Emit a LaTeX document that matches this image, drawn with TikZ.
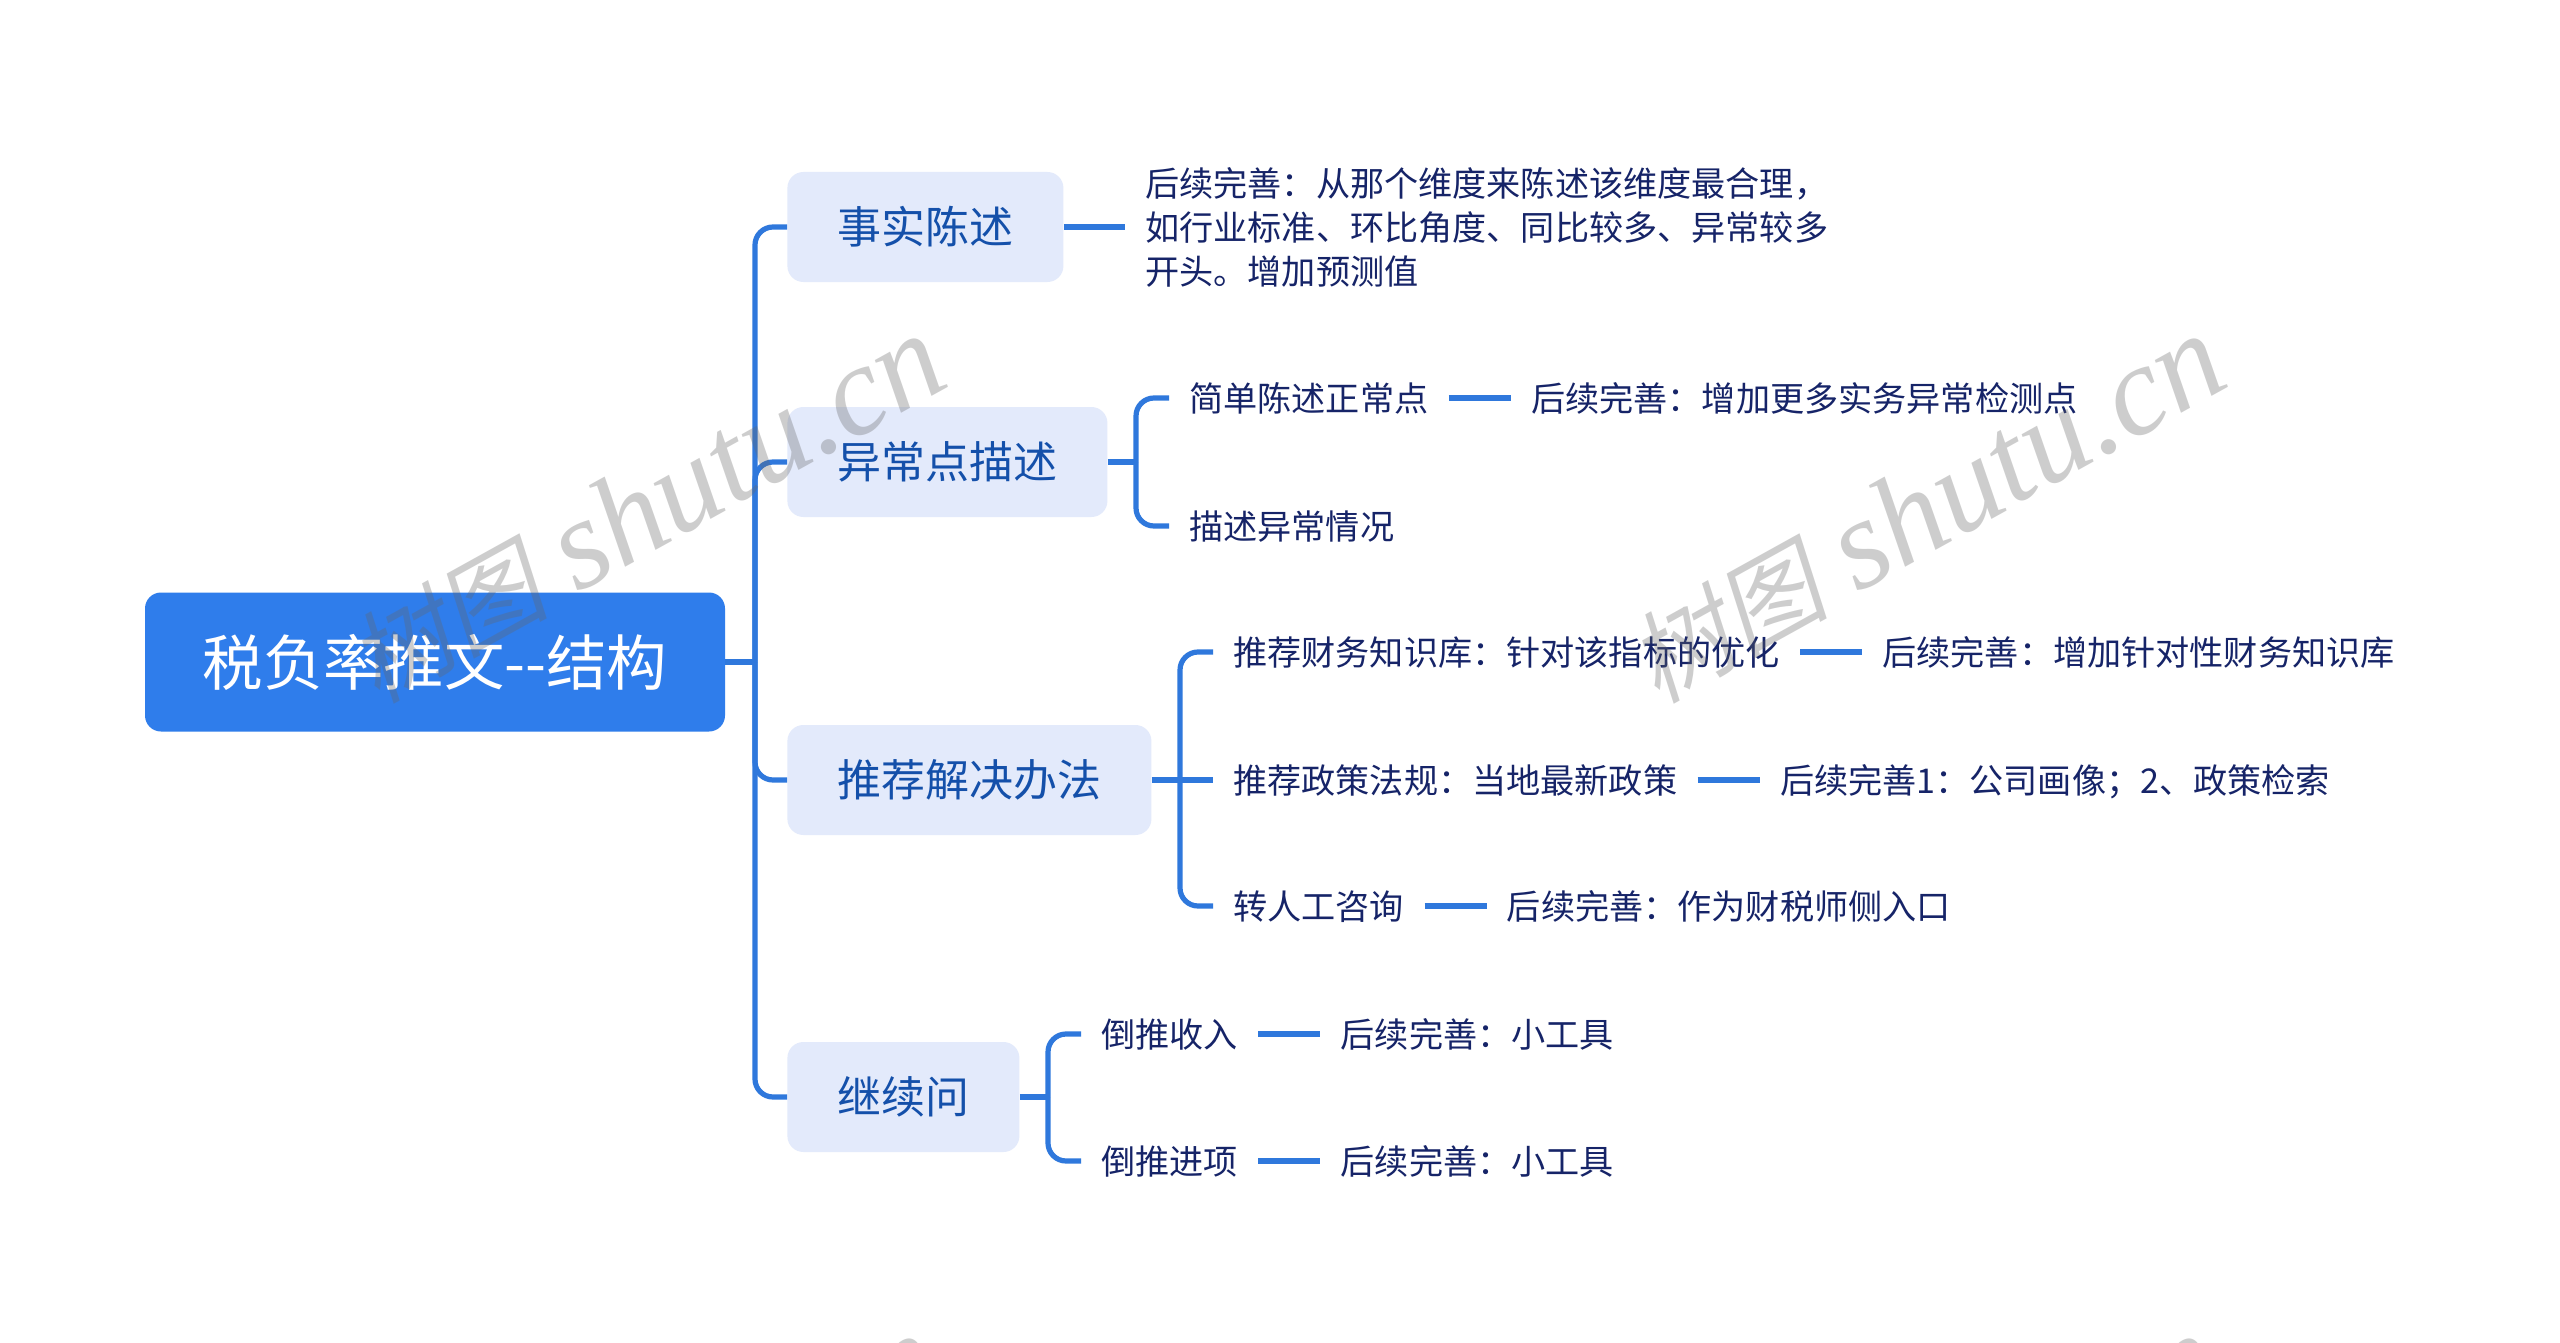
\documentclass[tikz,border=0pt]{standalone}
\usepackage{fontspec}
\setmainfont{Noto Sans CJK SC}
\newfontfamily\stampcjk[FakeSlant=0.2]{Noto Sans CJK SC}
\newfontfamily\stamplatin{Liberation Serif}
\usetikzlibrary{positioning}

\definecolor{rootblue}{RGB}{47,125,235}
\definecolor{linkblue}{RGB}{47,120,220}
\definecolor{branchfill}{RGB}{227,234,251}
\definecolor{branchtext}{RGB}{20,80,170}
\definecolor{leaftext}{RGB}{22,36,104}

\begin{document}
\begin{tikzpicture}[
    x=0.5pt, y=-0.5pt,
    node distance=31pt,
    rootnode/.style={
      % The shape:
      rectangle,
      rounded corners=8pt,
      minimum width=290pt,
      minimum height=69.5pt,
      % The filling:
      fill=rootblue,
      % Font
      text=white,
      font=\fontsize{30.2}{36}\selectfont,
    },
    branch/.style={
      rectangle,
      rounded corners=8pt,
      anchor=west,
      minimum height=55pt,
      inner xsep=25pt,
      fill=branchfill,
      text=branchtext,
      font=\fontsize{22}{26}\selectfont,
      text height=19.4pt,
      text depth=2.6pt,
    },
    leaf/.style={
      rectangle,
      anchor=west,
      inner xsep=10pt,
      inner ysep=2pt,
      text=leaftext,
      font=\fontsize{17.07}{22}\selectfont,
      text height=15pt,
      text depth=2pt,
    },
    note/.style={
      rectangle,
      anchor=west,
      inner xsep=10pt,
      inner ysep=2pt,
      align=left,
      text=leaftext,
      font=\fontsize{17.07}{22}\selectfont,
    },
    link/.style={line width=2.6pt, color=linkblue, rounded corners=9pt},
    stamp/.style={
      rotate=29,
      text=black!60,
      opacity=.32,
      font=\fontsize{64}{64}\selectfont,
    }]

    \path[fill=white] (0,0) rectangle (2560,1343);
    \useasboundingbox (0,0) rectangle (2560,1343);

    \node[rootnode] (root) at (435,662) {税负率推文-{}-结构};

    \node[branch] (fact) at (787,227) {事实陈述};
    \node[branch] (anomaly) at (787,462) {异常点描述};
    \node[branch] (solve) at (787,780) {推荐解决办法};
    \node[branch] (askon) at (787,1097) {继续问};

    \node[note] (factnote) at (1125,227) {后续完善：从那个维度来陈述该维度最合理，\\
      如行业标准、环比角度、同比较多、异常较多\\
      开头。增加预测值};

    \node[leaf] (normal) at (1169,398) {简单陈述正常点};
    \node[leaf] (normalnext) [right=of normal] {后续完善：增加更多实务异常检测点};
    \node[leaf] (abnormal) at (1169,526) {描述异常情况};

    \node[leaf] (library) at (1213,652) {推荐财务知识库：针对该指标的优化};
    \node[leaf] (librarynext) [right=of library] {后续完善：增加针对性财务知识库};
    \node[leaf] (policy) at (1213,780) {推荐政策法规：当地最新政策};
    \node[leaf] (policynext) [right=of policy] {后续完善1：公司画像；2、政策检索};
    \node[leaf] (human) at (1213,906) {转人工咨询};
    \node[leaf] (humannext) [right=of human] {后续完善：作为财税师侧入口};

    \node[leaf] (income) at (1081,1034) {倒推收入};
    \node[leaf] (incomenext) [right=of income] {后续完善：小工具};
    \node[leaf] (input) at (1081,1161) {倒推进项};
    \node[leaf] (inputnext) [right=of input] {后续完善：小工具};

    \coordinate (mainfork) at (755,662);
    \coordinate (anomalyfork) at (1136,462);
    \coordinate (solvefork) at (1180,780);
    \coordinate (askonfork) at (1048,1097);

    \draw[link] (root.east) -- (mainfork);
    \draw[link] (mainfork) |- (fact.west);
    \draw[link] (mainfork) |- (anomaly.west);
    \draw[link] (mainfork) |- (solve.west);
    \draw[link] (mainfork) |- (askon.west);

    \draw[link] (fact.east) -- (factnote.west);

    \draw[link] (anomaly.east) -- (anomalyfork);
    \draw[link] (anomalyfork) |- (normal.west);
    \draw[link] (anomalyfork) |- (abnormal.west);
    \draw[link] (normal.east) -- (normalnext.west);

    \draw[link] (solve.east) -- (policy.west);
    \draw[link] (solvefork) |- (library.west);
    \draw[link] (solvefork) |- (human.west);
    \draw[link] (library.east) -- (librarynext.west);
    \draw[link] (policy.east) -- (policynext.west);
    \draw[link] (human.east) -- (humannext.west);

    \draw[link] (askon.east) -- (askonfork);
    \draw[link] (askonfork) |- (income.west);
    \draw[link] (askonfork) |- (input.west);
    \draw[link] (income.east) -- (incomenext.west);
    \draw[link] (input.east) -- (inputnext.west);

    % watermark over everything
    \begin{scope}
      \clip (0,0) rectangle (2560,1343);
      \node[stamp] (stampa) at (646,509) {{\stampcjk\fontsize{50}{60}\selectfont 树图} {\stamplatin\itshape shutu.cn}};
      \node[stamp] (stampb) at (1926,509) {{\stampcjk\fontsize{50}{60}\selectfont 树图} {\stamplatin\itshape shutu.cn}};
      \node[stamp] (stampc) at (641,1509) {{\stampcjk\fontsize{50}{60}\selectfont 树图} {\stamplatin\itshape shutu.cn}};
      \node[stamp] (stampd) at (1921,1509) {{\stampcjk\fontsize{50}{60}\selectfont 树图} {\stamplatin\itshape shutu.cn}};
    \end{scope}
  \end{tikzpicture}
\end{document}
